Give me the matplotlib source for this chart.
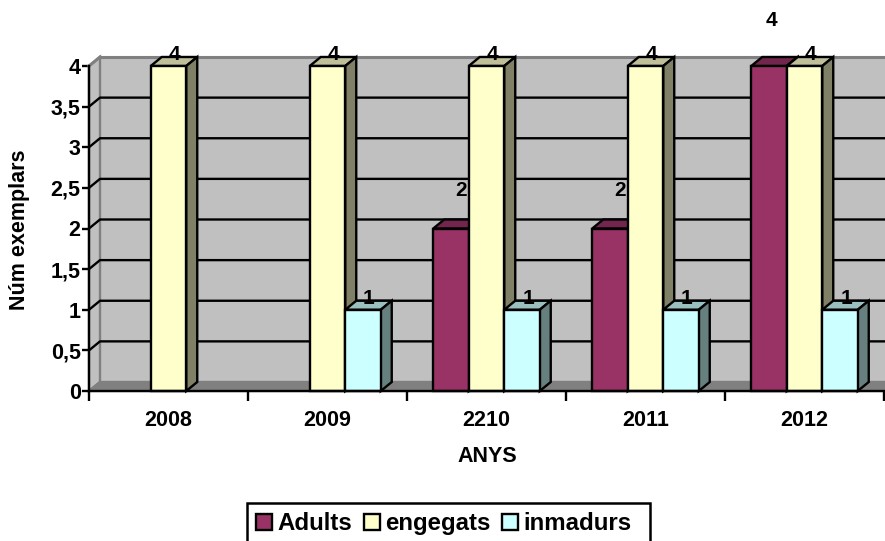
import numpy as np
import matplotlib
matplotlib.use("Agg")
import matplotlib.pyplot as plt
from matplotlib.patches import Patch, Rectangle

plt.rcParams['font.family'] = ['Liberation Sans', 'DejaVu Sans']
plt.rcParams['font.weight'] = 'bold'

# values
years = ['2008', '2009', '2210', '2011', '2012']
adults = [0, 0, 2, 2, 4]
engegats = [4, 4, 4, 4, 4]
inmadurs = [0, 1, 1, 1, 1]
yticks = [0, 0.5, 1, 1.5, 2, 2.5, 3, 3.5, 4]
yticklabels = ['0', '0,5', '1', '1,5', '2', '2,5', '3', '3,5', '4']

# front colour, top colour, side colour
col_adults = ('#993366', '#73264d', '#4d1a33')
col_enge = ('#ffffcc', '#bfbf99', '#808066')
col_inm = ('#ccffff', '#99bfbf', '#668080')

W, H = 885, 541
fig = plt.figure(figsize=(W / 100, H / 100), dpi=100)
ax = fig.add_axes([89 / W, (H - 391) / H, 795 / W, 325 / H])
ax.set_xlim(0, 5)
ax.set_ylim(0, 4)
ax.patch.set_visible(False)

# depth of the fake 3d, in data units
dx = 11 / 159
dy = 9 / 81.25
lw = 1.7

# walls and floor
ax.fill([dx, 5.2, 5.2, dx], [dy, dy, 4 + dy, 4 + dy], fc='#c0c0c0', ec='none', zorder=1, clip_on=False)
ax.fill([0, dx, dx, 0], [0, dy, 4 + dy, 4], fc='#c0c0c0', ec='#808080', lw=lw, zorder=1, clip_on=False)
ax.fill([0, dx, 5.2, 5.2], [0, dy, dy, 0], fc='#808080', ec='#808080', lw=lw, zorder=1, clip_on=False)
ax.plot([dx, 5.2], [4 + dy, 4 + dy], color='#808080', lw=2.2, zorder=2, clip_on=False)
ax.plot([0, dx], [4, 4 + dy], color='#808080', lw=2.2, zorder=2, clip_on=False)

# gridlines go along the back wall and down the side wall
for v in yticks[1:-1]:
    ax.plot([0, dx, 5.2], [v, v + dy, v + dy], color='black', lw=lw, zorder=2, clip_on=False)

x = np.arange(len(years)) + 0.5
bw = 35.5 / 159
series = [(adults, col_adults, 'Adults', -bw), (engegats, col_enge, 'engegats', 0), (inmadurs, col_inm, 'inmadurs', bw)]

z = 3
for i in range(len(years)):
    for vals, cols, name, off in series:
        v = vals[i]
        if v == 0:
            continue
        left = x[i] + off - bw / 2
        right = left + bw
        ax.fill([left, left + dx, right + dx, right], [v, v + dy, v + dy, v], fc=cols[1], ec='black', lw=lw, zorder=z, clip_on=False)
        ax.fill([right, right + dx, right + dx, right], [0, dy, v + dy, v], fc=cols[2], ec='black', lw=lw, zorder=z, clip_on=False)
        ax.bar(x[i] + off, v, bw, color=cols[0], edgecolor='black', lw=lw, zorder=z + 0.5, clip_on=False)
        z += 1

# data labels, the Adults ones sit high above their bars
for i in range(len(years)):
    for vals, cols, name, off in series:
        v = vals[i]
        if v == 0:
            continue
        if name == 'Adults':
            px = 10 if v == 2 else 2
            py = 38 if v == 2 else 45
        else:
            px = 6
            py = 11
        ax.annotate(str(v), (x[i] + off, v), xytext=(px * 0.72, py * 0.72), textcoords='offset points',
                    ha='center', va='center', fontsize=15, fontweight='bold', zorder=100, annotation_clip=False)

ax.spines['top'].set_visible(False)
ax.spines['right'].set_visible(False)
ax.spines['left'].set_linewidth(lw)
ax.spines['bottom'].set_linewidth(lw)
ax.spines['left'].set_zorder(2.5)
ax.spines['bottom'].set_zorder(90)

ax.set_yticks(yticks)
ax.set_yticklabels(yticklabels, fontsize=15.5, fontweight='bold')
ax.tick_params(axis='y', length=5, width=lw, pad=1)
ax.set_xticks(np.arange(6))
ax.set_xticklabels([])
ax.tick_params(axis='x', which='major', length=7, width=lw)
ax.set_xticks(x, minor=True)
ax.set_xticklabels(years, minor=True, fontsize=15.5, fontweight='bold')
ax.tick_params(axis='x', which='minor', length=0, pad=14)

fig.text(487 / W, 1 - 456 / H, 'ANYS', ha='center', va='center', fontsize=15.5, fontweight='bold')
fig.text(20 / W, 1 - 230 / H, 'Núm exemplars', rotation=90, ha='center', va='center', fontsize=15.5, fontweight='bold')

# legend, box drawn by hand because the right margin is wider than the left
handles = [Patch(fc=c[0], ec='black', lw=lw) for c in (col_adults, col_enge, col_inm)]
leg = fig.legend(handles, ['Adults', 'engegats', 'inmadurs'], ncol=3, loc='lower left',
                 bbox_to_anchor=(247 / W, -3 / H), borderaxespad=0, frameon=False,
                 prop={'size': 17.3, 'weight': 'bold'},
                 handlelength=0.66, handleheight=0.66, handletextpad=0.22, columnspacing=0.5,
                 borderpad=0.37)
fig.add_artist(Rectangle((247 / W, -5 / H), 403 / W, 43 / H, transform=fig.transFigure,
                         fc='none', ec='black', lw=1.8))

fig.savefig('out.png', dpi=100)
